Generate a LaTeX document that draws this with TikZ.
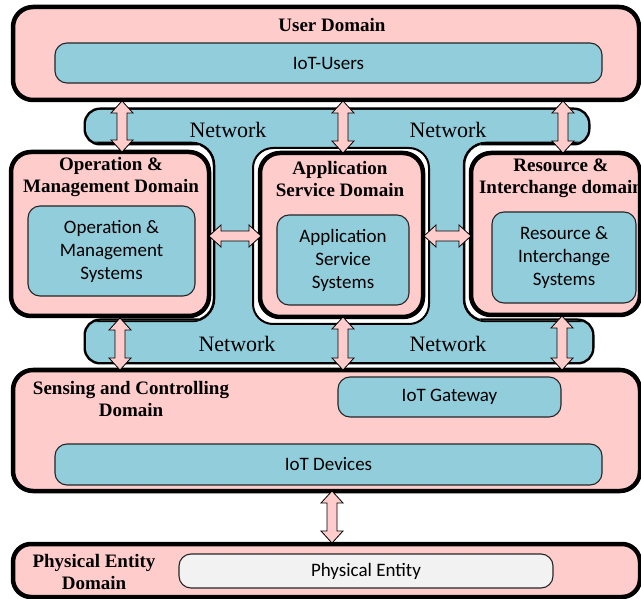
\documentclass[tikz,border=0pt]{standalone}
\usepackage{fontspec}
\setmainfont{Liberation Serif}
\newfontfamily\sysfont{Carlito}
\usetikzlibrary{calc}

\definecolor{pinkc}{RGB}{255,204,204}
\definecolor{bluec}{RGB}{146,205,220}
\definecolor{grayc}{RGB}{242,242,242}

\tikzset{
  dombox/.style={draw=black, line width=4.5pt, fill=pinkc, rounded corners=20pt, inner sep=0pt},
  sysbox/.style={draw=black!85, line width=1.1pt, fill=bluec, rounded corners=12pt,
                 inner sep=0pt, align=center, font=\sysfont\fontsize{19}{23}\selectfont},
  entbox/.style={sysbox, fill=grayc},
  domtitle/.style={align=center, inner sep=0pt, font=\bfseries\fontsize{19}{22}\selectfont},
  netlabel/.style={inner sep=0pt, font=\fontsize{22}{24}\selectfont},
  cutout/.style={draw=black, line width=2.5pt, fill=white, rounded corners=22pt},
  blk/.style={draw=black, line width=0.8pt, fill=pinkc, line join=miter},
}

% vertical double block arrow: #1 upper end, #2 lower end
\newcommand\vdarrow[2]{%
  \path[blk] let \p1=(#1), \p2=(#2) in
    (\x1,\y1) -- (\x1+11pt,\y1-12pt) -- (\x1+5pt,\y1-12pt) -- (\x1+5pt,\y2+12pt)
    -- (\x1+11pt,\y2+12pt) -- (\x1,\y2) -- (\x1-11pt,\y2+12pt) -- (\x1-5pt,\y2+12pt)
    -- (\x1-5pt,\y1-12pt) -- (\x1-11pt,\y1-12pt) -- cycle;}
% horizontal double block arrow: #1 left end, #2 right end
\newcommand\hdarrow[2]{%
  \path[blk] let \p1=(#1), \p2=(#2) in
    (\x1,\y1) -- (\x1+12pt,\y1+11pt) -- (\x1+12pt,\y1+5pt) -- (\x2-12pt,\y1+5pt)
    -- (\x2-12pt,\y1+11pt) -- (\x2,\y1) -- (\x2-12pt,\y1-11pt) -- (\x2-12pt,\y1-5pt)
    -- (\x1+12pt,\y1-5pt) -- (\x1+12pt,\y1-11pt) -- cycle;}

% network backbone: two bands joined by a central block
\newcommand\netbands{%
  [rounded corners=14pt] (86,110) rectangle (588,143)
  [rounded corners=14pt] (86,321) rectangle (592,362)}
\newcommand\netshape{\netbands [sharp corners] (200,130) rectangle (480,335)}

\begin{document}
\begin{tikzpicture}[x=1pt,y=-1pt]
\useasboundingbox (0,0) rectangle (641,599);

% ---- network backbone ----
\path[draw=black, line width=5pt] \netbands;
\path[fill=bluec] \netshape;
\begin{scope}
  \clip \netshape;
  \path[cutout] (6,143) rectangle (214,321);
  \path[cutout, line width=2pt, rounded corners=20pt] (253,148) rectangle (429,324);
  \path[cutout] (464,143) rectangle (660,321);
\end{scope}
\node[netlabel] (n1) at (228,130) {Network};
\node[netlabel] (n2) at (448,130) {Network};
\node[netlabel] (n3) at (237,344) {Network};
\node[netlabel] (n4) at (448,344) {Network};

% ---- user domain ----
\node[dombox, minimum width=626pt, minimum height=93pt] (user) at (326,53.5) {};
\node[domtitle] (userT) at (332,25) {User Domain};
\node[sysbox, minimum width=547pt, minimum height=40pt] (iotu) at (328.5,63) {IoT-Users};

% ---- middle domains ----
\node[dombox, minimum width=198pt, minimum height=164pt] (opd) at (110,234) {};
\node[domtitle] (opdT) at (111,177) {Operation \&\\Management Domain};
\node[sysbox, minimum width=167pt, minimum height=90pt] (ops) at (111.5,251)
  {Operation \&\\Management\\Systems};

\node[dombox, minimum width=163pt, minimum height=164pt] (app) at (341.5,235) {};
\node[domtitle] (appT) at (340,179.5) {Application\\Service Domain};
\node[sysbox, minimum width=132pt, minimum height=90pt] (aps) at (343,260)
  {Application\\Service\\Systems};

\node[dombox, minimum width=169pt, minimum height=162pt] (res) at (555.5,234) {};
\node[domtitle] (resT) at (561,178) {Resource \&\\Interchange domain};
\node[sysbox, minimum width=144pt, minimum height=91pt] (ress) at (564,257.5)
  {Resource \&\\Interchange\\Systems};

% ---- sensing and controlling domain ----
\node[dombox, minimum width=627pt, minimum height=121pt] (sens) at (326.5,430.5) {};
\node[domtitle] (sensT) at (131,399) {Sensing and Controlling\\Domain};
\node[sysbox, minimum width=223pt, minimum height=40pt] (gw) at (449.5,397) {IoT Gateway};
\node[sysbox, minimum width=547pt, minimum height=41pt] (dev) at (328.5,464.5) {IoT Devices};

% ---- physical entity domain ----
\node[dombox, rounded corners=18pt, minimum width=627pt, minimum height=53pt] (phys) at (326.5,570.5) {};
\node[domtitle] (physT) at (94,572) {Physical Entity\\Domain};
\node[entbox, minimum width=374pt, minimum height=34pt] (pe) at (366,571) {Physical Entity};

% ---- arrow end points ----
\coordinate (u1) at (122,101);  \coordinate (o1) at (122,152);
\coordinate (u2) at (343,101);  \coordinate (a1) at (343,153);
\coordinate (u3) at (563,101);  \coordinate (r1) at (563,153);
\coordinate (o2) at (120,318);  \coordinate (s1) at (120,370);
\coordinate (a2) at (343,317);  \coordinate (s2) at (343,370);
\coordinate (r2) at (562,316);  \coordinate (s3) at (562,370);
\coordinate (oe) at (209,236);  \coordinate (aw) at (261,236);
\coordinate (ae) at (424,236);  \coordinate (rw) at (471,236);
\coordinate (s4) at (332,491);  \coordinate (p1) at (332,543);

% ---- arrows ----
\vdarrow{u1}{o1}
\vdarrow{u2}{a1}
\vdarrow{u3}{r1}
\vdarrow{o2}{s1}
\vdarrow{a2}{s2}
\vdarrow{r2}{s3}
\hdarrow{oe}{aw}
\hdarrow{ae}{rw}
\vdarrow{s4}{p1}
\end{tikzpicture}
\end{document}
